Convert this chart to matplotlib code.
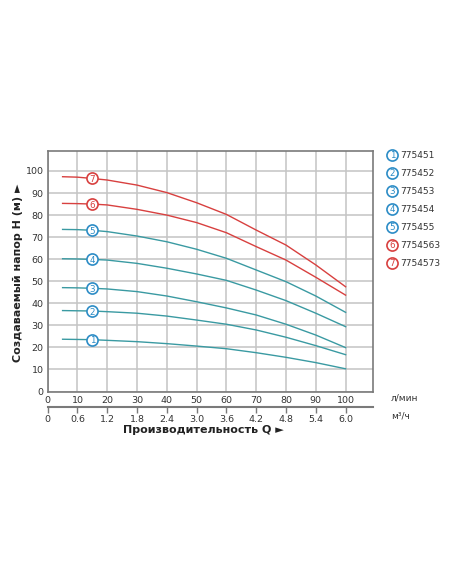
import matplotlib.pyplot as plt

# flow Q, l/min
q = [5, 10, 15, 20, 30, 40, 50, 60, 70, 80, 90, 100]

# head H, m
h1 = [23.7, 23.6, 23.5, 23.2, 22.6, 21.7, 20.6, 19.4, 17.6, 15.5, 13.1, 10.3]
h2 = [36.7, 36.6, 36.5, 36.2, 35.5, 34.2, 32.4, 30.5, 27.9, 24.6, 20.8, 16.7]
h3 = [47.1, 47.0, 46.8, 46.5, 45.3, 43.3, 40.7, 37.9, 34.7, 30.5, 25.6, 19.9]
h4 = [60.2, 60.1, 59.9, 59.6, 58.1, 55.9, 53.3, 50.4, 46.0, 41.2, 35.5, 29.4]
h5 = [73.5, 73.4, 73.1, 72.5, 70.5, 67.9, 64.5, 60.4, 55.1, 49.8, 43.3, 35.9]
h6 = [85.3, 85.2, 85.0, 84.6, 82.6, 80.0, 76.6, 72.0, 65.7, 59.6, 51.8, 43.7]
h7 = [97.4, 97.2, 96.6, 95.9, 93.6, 90.2, 85.6, 80.3, 73.2, 66.4, 57.4, 47.5]

models = ["775451", "775452", "775453", "775454", "775455", "7754563", "7754573"]
numbers = ["1", "2", "3", "4", "5", "6", "7"]

x_ticks = [0, 10, 20, 30, 40, 50, 60, 70, 80, 90, 100]
m3h_labels = ["0", "0.6", "1.2", "1.8", "2.4", "3.0", "3.6", "4.2", "4.8", "5.4", "6.0"]
y_ticks = [0, 10, 20, 30, 40, 50, 60, 70, 80, 90, 100]

blue_line = "#3a9aa2"
blue_mark = "#2c8cc6"
red = "#d8403f"
colors_line = [blue_line] * 5 + [red] * 2
colors_mark = [blue_mark] * 5 + [red] * 2

W, H = 452, 584
fig = plt.figure(figsize=(W / 100, H / 100), dpi=100)
ax = fig.add_axes([47.7 / W, 1 - 391.5 / H, 325.6 / W, 240.8 / H])

curves = [h1, h2, h3, h4, h5, h6, h7]
for i, hh in enumerate(curves):
    ax.plot(q, hh, color=colors_line[i], lw=1.0, zorder=3)
    ax.plot(q[2], hh[2], "o", ms=8, mfc="white", mec=colors_mark[i],
            mew=1.2, zorder=4)
    ax.text(q[2], hh[2], numbers[i], color=colors_mark[i], fontsize=6.3,
            ha="center", va="center_baseline", zorder=5)

ax.set_xlim(0, 109.3)
ax.set_ylim(0, 109.2)
ax.set_xticks(x_ticks)
ax.set_yticks(y_ticks)
ax.grid(True, color="#c4c4c4", lw=1.1)
ax.set_axisbelow(True)
ax.tick_params(length=0, labelsize=6.8, colors="#333333", pad=3)
for s in ax.spines.values():
    s.set_color("#7a7a7a")
    s.set_linewidth(1.2)

# second scale, m3/h
sec = ax.secondary_xaxis(-0.064, functions=(lambda v: v, lambda v: v))
sec.set_xticks(x_ticks)
sec.set_xticklabels(m3h_labels)
sec.tick_params(length=4, width=1, labelsize=6.8, colors="#333333", pad=2)
sec.spines["bottom"].set_color("#7a7a7a")
sec.spines["bottom"].set_linewidth(1.5)
sec.tick_params(axis="x", color="#7a7a7a")

fig.text(391 / W, 1 - 398 / H, "л/мин", fontsize=6.5, color="#333333", va="center")
fig.text(391 / W, 1 - 416 / H, "м³/ч", fontsize=6.5, color="#333333", va="center")
fig.text(203 / W, 1 - 430 / H, "Производительность Q ►", fontsize=8,
         fontweight="bold", ha="center", va="center", color="#222222")
fig.text(18 / W, 1 - 273 / H, "Создаваемый напор H (м) ►", fontsize=8,
         fontweight="bold", rotation=90, ha="center", va="center", color="#222222")

# legend on the right
lax = fig.add_axes([0, 0, 1, 1])
lax.set_xlim(0, W)
lax.set_ylim(H, 0)
lax.axis("off")
for i, name in enumerate(models):
    yy = 155 + i * 18.0
    lax.plot(392.3, yy, "o", ms=8, mfc="white", mec=colors_mark[i], mew=1.2)
    lax.text(392.3, yy, numbers[i], color=colors_mark[i], fontsize=6.3,
             ha="center", va="center_baseline")
    lax.text(400.5, yy, name, fontsize=6.5, color="#333333", va="center")

fig.savefig("out.png", dpi=100)
